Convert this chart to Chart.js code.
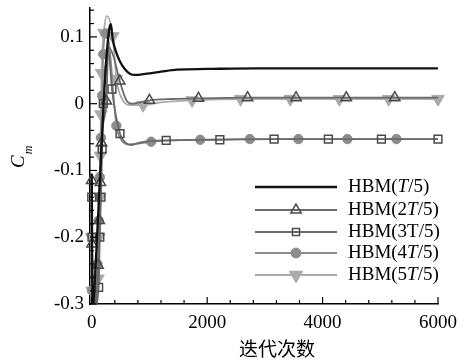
<!DOCTYPE html>
<html>
<head>
<meta charset="utf-8">
<script src="https://cdn.jsdelivr.net/npm/chart.js@4"></script>
<style>
    html, body { margin: 0; padding: 0; background: #fff; }
    #wrap { width: 465px; height: 360px; }
</style>
</head>
<body>
<div id="wrap"><canvas id="cm-chart" width="465" height="360"></canvas></div>
<script>
// iterations / Cm values
const iterT1 = [0, 15, 80, 160, 240, 300, 330, 365, 420, 485, 572, 660, 750, 956, 1200, 1480, 2000, 2870, 4000, 5000, 6000];
const cmT1 = [-0.105, -0.31, -0.22, -0.08, 0.05, 0.11, 0.119, 0.096, 0.078, 0.064, 0.052, 0.045, 0.043, 0.045, 0.048, 0.051, 0.052, 0.053, 0.053, 0.053, 0.053];

const iterT2 = [0, 5, 25, 110, 130, 150, 170, 253, 290, 380, 485, 607, 700, 1000, 1400, 1850, 2700, 3540, 4410, 5250, 6000];
const cmT2 = [-0.115, -0.21, -0.31, -0.242, -0.175, -0.118, -0.059, 0.004, 0.085, 0.07, 0.034, 0.004, 0.0, 0.005, 0.007, 0.008, 0.009, 0.009, 0.009, 0.009, 0.009];
const marksT2 = [0, 1, 3, 4, 5, 6, 7, 10, 13, 15, 16, 17, 18, 19];

const iterT3 = [0, 5, 25, 120, 140, 160, 180, 200, 290, 350, 490, 580, 680, 850, 1290, 2220, 3160, 4100, 5020, 6000];
const cmT3 = [-0.14, -0.2, -0.31, -0.275, -0.2, -0.14, -0.068, 0.0, 0.08, 0.022, -0.045, -0.058, -0.062, -0.058, -0.055, -0.054, -0.053, -0.053, -0.053, -0.053];
const marksT3 = [0, 1, 3, 4, 5, 6, 7, 9, 10, 14, 15, 16, 17, 18, 19];

const iterT4 = [0, 5, 25, 100, 120, 140, 160, 180, 200, 240, 300, 427, 520, 650, 1030, 1880, 2740, 3580, 4430, 5280, 6000];
const cmT4 = [-0.18, -0.28, -0.31, -0.24, -0.175, -0.11, -0.051, 0.012, 0.074, 0.105, 0.09, -0.033, -0.055, -0.061, -0.057, -0.054, -0.053, -0.053, -0.053, -0.053, -0.053];
const marksT4 = [1, 3, 4, 5, 6, 7, 8, 9, 11, 14, 15, 16, 17, 18, 19];

const iterT5 = [0, 5, 25, 110, 125, 140, 150, 160, 170, 210, 260, 365, 427, 520, 650, 890, 1200, 1740, 2580, 3440, 4290, 5145, 6000];
const cmT5 = [-0.2, -0.28, -0.31, -0.262, -0.2, -0.141, -0.078, -0.016, 0.046, 0.106, 0.131, 0.101, 0.037, 0.008, -0.002, -0.002, 0.002, 0.005, 0.007, 0.007, 0.007, 0.007, 0.007];
const marksT5 = [0, 1, 3, 4, 5, 6, 7, 8, 9, 11, 12, 15, 17, 18, 19, 20, 21, 22];

const legendLabels = ['HBM(T/5)', 'HBM(2T/5)', 'HBM(3T/5)', 'HBM(4T/5)', 'HBM(5T/5)'];
const italicT = [true, true, false, true, true];

const xTicks = [0, 2000, 4000, 6000];
const yTicks = [-0.3, -0.2, -0.1, 0, 0.1];
const yTickText = ['-0.3', '-0.2', '-0.1', '0', '0.1'];
const xTitle = '迭代次数';

const serif = '"Liberation Serif", "DejaVu Serif", serif';

const pts = (xs, ys) => xs.map((x, i) => ({x: x, y: ys[i]}));
const markAt = (list, r) => c => list.includes(c.dataIndex) ? r : 0;

const base = {
    cubicInterpolationMode: 'monotone',
    clip: {left: 10, top: 0, right: 10, bottom: 0},
    pointHoverRadius: 0
};

const datasets = [
    Object.assign({}, base, {
        label: legendLabels[0], data: pts(iterT1, cmT1),
        borderColor: '#111', borderWidth: 2.3, pointRadius: 0
    }),
    Object.assign({}, base, {
        label: legendLabels[1], data: pts(iterT2, cmT2),
        borderColor: '#6a6a6a', borderWidth: 1.8,
        pointStyle: 'triangle', pointRadius: markAt(marksT2, 6),
        pointBorderColor: '#4a4a4a', pointBackgroundColor: 'rgba(0,0,0,0)', pointBorderWidth: 1.5,
        legendMark: {style: 'triangle', r: 6, rot: 0, fill: 'rgba(0,0,0,0)', stroke: '#4a4a4a'}
    }),
    Object.assign({}, base, {
        label: legendLabels[2], data: pts(iterT3, cmT3),
        borderColor: '#6a6a6a', borderWidth: 1.8,
        pointStyle: 'rect', pointRadius: markAt(marksT3, 5.5),
        pointBorderColor: '#4a4a4a', pointBackgroundColor: 'rgba(0,0,0,0)', pointBorderWidth: 1.5,
        legendMark: {style: 'rect', r: 5, rot: 0, fill: 'rgba(0,0,0,0)', stroke: '#4a4a4a'}
    }),
    Object.assign({}, base, {
        label: legendLabels[3], data: pts(iterT4, cmT4),
        borderColor: '#8c8c8c', borderWidth: 1.8,
        pointStyle: 'circle', pointRadius: markAt(marksT4, 4.7),
        pointBorderColor: '#8c8c8c', pointBackgroundColor: '#8c8c8c', pointBorderWidth: 1,
        legendMark: {style: 'circle', r: 4.7, rot: 0, fill: '#8c8c8c', stroke: '#8c8c8c'}
    }),
    Object.assign({}, base, {
        label: legendLabels[4], data: pts(iterT5, cmT5),
        borderColor: '#ababab', borderWidth: 1.8,
        pointStyle: 'triangle', pointRotation: 180, pointRadius: markAt(marksT5, 7.2),
        pointBorderColor: '#ababab', pointBackgroundColor: '#ababab', pointBorderWidth: 1,
        legendMark: {style: 'triangle', r: 7.2, rot: 180, fill: '#ababab', stroke: '#ababab'}
    })
];

// inward ticks, custom legend and axis titles
const decor = {
    id: 'decor',
    afterDraw(chart) {
        const ctx = chart.ctx;
        const xs = chart.scales.x, ys = chart.scales.y;
        const area = chart.chartArea;
        ctx.save();
        ctx.strokeStyle = '#000';
        ctx.lineWidth = 1.2;
        for (let v = 0; v <= 6000; v += 400) {
            const px = xs.getPixelForValue(v);
            const len = v % 2000 === 0 ? 7 : 4;
            ctx.beginPath();
            ctx.moveTo(px, area.bottom);
            ctx.lineTo(px, area.bottom - len);
            ctx.stroke();
        }
        for (let k = -15; k <= 7; k++) {
            const v = k * 0.02;
            const py = ys.getPixelForValue(v);
            const len = k % 5 === 0 ? 7 : 4;
            ctx.beginPath();
            ctx.moveTo(area.left, py);
            ctx.lineTo(area.left + len, py);
            ctx.stroke();
        }

        // legend
        const rowY = [187, 210, 232, 253, 275];
        chart.data.datasets.forEach((ds, i) => {
            const y = rowY[i];
            ctx.strokeStyle = ds.borderColor;
            ctx.lineWidth = ds.borderWidth;
            ctx.beginPath();
            ctx.moveTo(255, y);
            ctx.lineTo(337, y);
            ctx.stroke();
            if (ds.legendMark) {
                const m = ds.legendMark;
                ctx.fillStyle = m.fill;
                ctx.strokeStyle = m.stroke;
                ctx.lineWidth = 1.5;
                Chart.helpers.drawPoint(ctx, {pointStyle: m.style, radius: m.r, rotation: m.rot, borderWidth: 1.5}, 296, y);
            }
            const parts = legendLabels[i].split('T');
            let x = 348;
            ctx.fillStyle = '#000';
            ctx.textBaseline = 'middle';
            ctx.textAlign = 'left';
            ctx.font = '19px ' + serif;
            ctx.fillText(parts[0], x, y);
            x += ctx.measureText(parts[0]).width;
            ctx.font = (italicT[i] ? 'italic ' : '') + '19px ' + serif;
            ctx.fillText('T', x, y);
            x += ctx.measureText('T').width;
            ctx.font = '19px ' + serif;
            ctx.fillText(parts[1], x, y);
        });

        // x title
        ctx.fillStyle = '#000';
        ctx.textAlign = 'center';
        ctx.textBaseline = 'middle';
        ctx.font = '19px "Noto Sans CJK SC", sans-serif';
        ctx.fillText(xTitle, 277, 349);

        // y title C_m
        ctx.translate(24, 168);
        ctx.rotate(-Math.PI / 2);
        ctx.textAlign = 'left';
        ctx.textBaseline = 'alphabetic';
        ctx.font = 'italic 19px ' + serif;
        ctx.fillText('C', 0, 0);
        const cw = ctx.measureText('C').width;
        ctx.font = 'italic 12px ' + serif;
        ctx.fillText('m', cw + 1, 8);
        ctx.restore();
    }
};

new Chart(document.getElementById('cm-chart'), {
    type: 'line',
    data: {datasets: datasets},
    plugins: [decor],
    options: {
        responsive: false,
        devicePixelRatio: 1,
        animation: false,
        events: [],
        layout: {padding: {top: 0, right: 27, left: 0, bottom: 0}},
        plugins: {legend: {display: false}, tooltip: {enabled: false}},
        scales: {
            x: {
                type: 'linear', min: -30, max: 6000,
                afterFit: s => { s.height = 56; s.paddingLeft = 0; s.paddingRight = 0; },
                afterBuildTicks: s => { s.ticks = xTicks.map(v => ({value: v})); },
                grid: {display: false, drawTicks: false},
                border: {display: true, color: '#000', width: 1.5},
                ticks: {
                    padding: 8, color: '#000', maxRotation: 0,
                    font: {family: serif, size: 19},
                    callback: v => String(v)
                }
            },
            y: {
                type: 'linear', min: -0.3, max: 0.143,
                afterFit: s => { s.width = 90; s.paddingTop = 7; s.paddingBottom = 0; },
                afterBuildTicks: s => { s.ticks = yTicks.map(v => ({value: v})); },
                grid: {display: false, drawTicks: false},
                border: {display: true, color: '#000', width: 1.5},
                ticks: {
                    padding: 6, color: '#000',
                    font: {family: serif, size: 19},
                    callback: (v, i) => yTickText[i]
                }
            }
        }
    }
});
</script>
</body>
</html>
